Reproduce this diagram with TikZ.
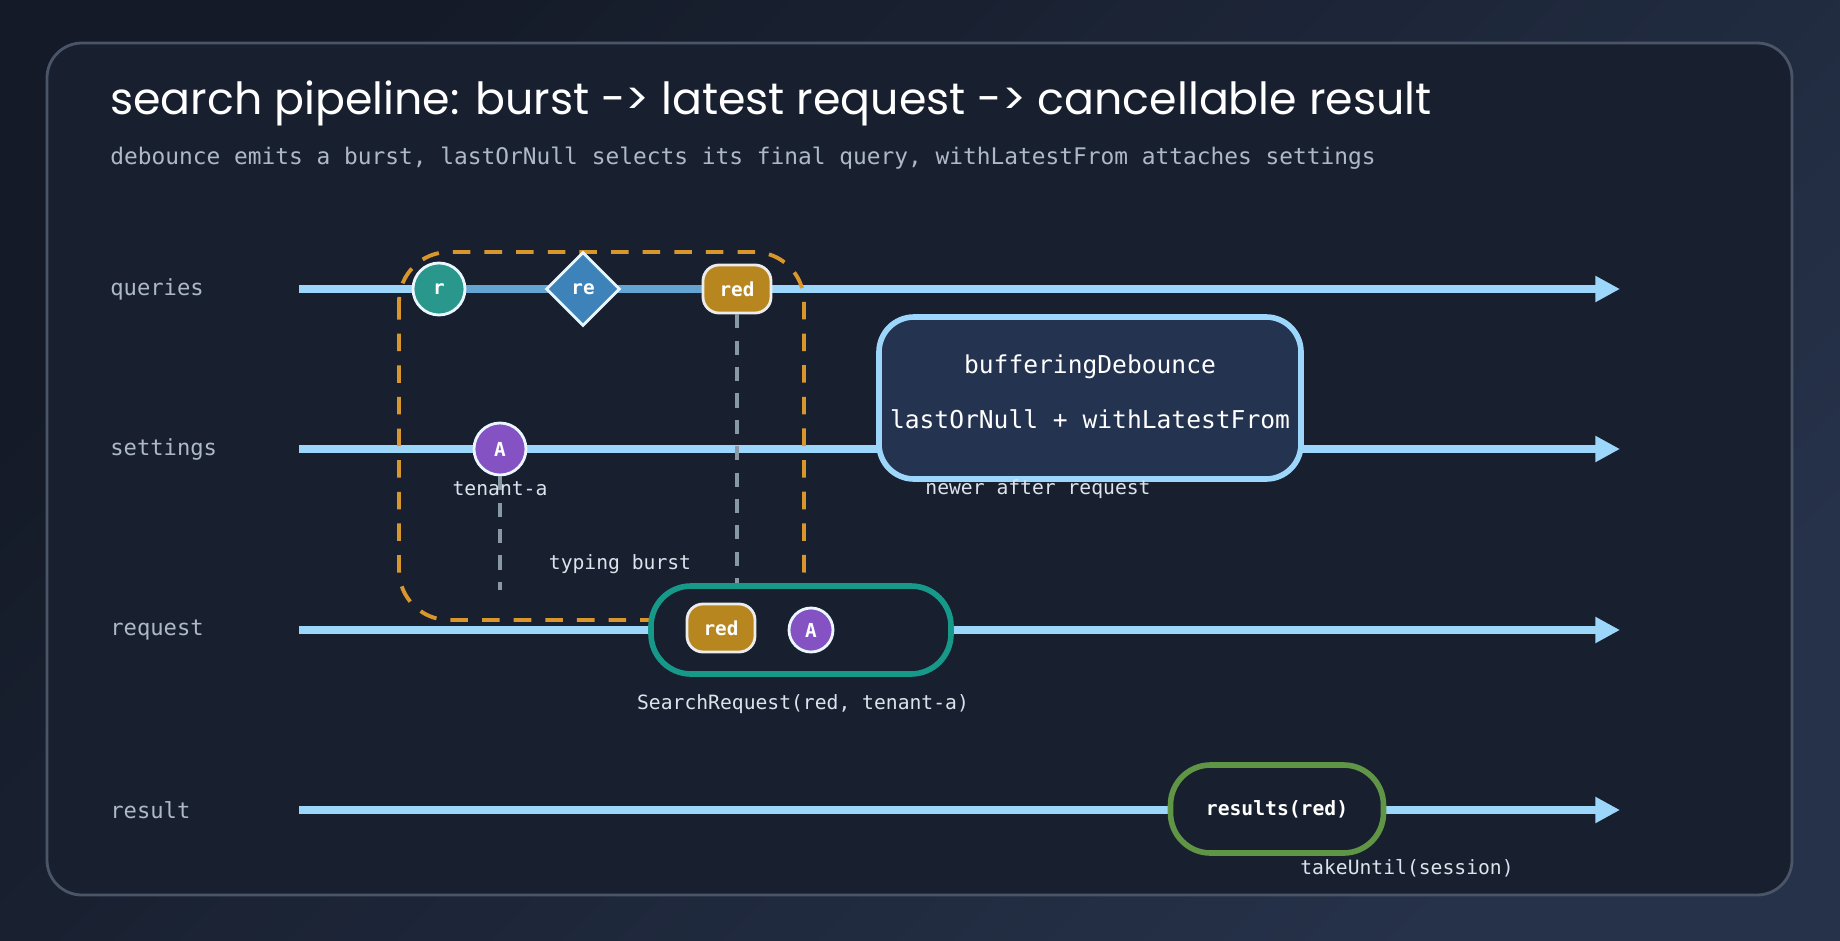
\documentclass[tikz,border=0pt]{standalone}
\usepackage{fontspec}
\setmainfont{DejaVu Sans Mono}
\newfontfamily\titlefont{Poppins}
\usetikzlibrary{shapes.geometric,arrows.meta,positioning}
\definecolor{bgA}{HTML}{141A27}
\definecolor{bgB}{HTML}{26324A}
\definecolor{panel}{HTML}{182030}
\definecolor{panelrim}{HTML}{4A5668}
\definecolor{lane}{HTML}{9DD6FB}
\definecolor{txt}{HTML}{DCE3EC}
\definecolor{subtxt}{HTML}{AEB9C8}
\definecolor{burst}{HTML}{D8962C}
\definecolor{teal}{HTML}{17998A}
\definecolor{green}{HTML}{5F9545}
\definecolor{gold}{HTML}{B8861E}
\definecolor{purple}{HTML}{8552C4}
\definecolor{steel}{HTML}{3D82B9}
\definecolor{tealball}{HTML}{2A978C}
\definecolor{opfill}{HTML}{233350}
\tikzset{
    lanelabel/.style = {anchor=west, text=subtxt, font=\fontsize{6.3}{8}\selectfont},
    laneline/.style = {lane, line width=2.3pt, -{Triangle[length=7pt,width=7pt]}},
    note/.style = {text=txt, font=\fontsize{5.6}{7}\selectfont},
    marble/.style = {circle, draw=white!80!lane, line width=0.8pt, minimum size=5.2mm, inner sep=0pt,
        text=white, font=\fontsize{5.5}{7}\selectfont\bfseries},
    chip/.style = {rectangle, rounded corners=1.6mm, draw=white!85!gray, line width=0.8pt, fill=gold,
        minimum width=6.8mm, minimum height=4.8mm, inner sep=0pt, text=white, font=\fontsize{5.5}{7}\selectfont\bfseries},
    guide/.style = {draw=gray!70!lane, line width=1pt, dash pattern=on 4pt off 3.5pt}
}
\begin{document}
\begin{tikzpicture}[x=0.1mm, y=-0.1mm]
    % Background and panel
    \shade[left color=bgA, right color=bgB, shading angle=45] (0,0) rectangle (1840,940);
    \useasboundingbox (0,0) rectangle (1840,940);
    \fill[panel, rounded corners=3.5mm] (47,43) rectangle (1792,895);
    \draw[panelrim, line width=0.8pt, rounded corners=3.5mm] (47,43) rectangle (1792,895);

    % Titles
    \node[anchor=west, text=white, font=\titlefont\fontsize{12.6}{15}\selectfont] (title) at (98,103)
        {search pipeline: burst -> latest request -> cancellable result};
    \node[anchor=west, text=subtxt, font=\fontsize{6.5}{8}\selectfont] (subtitle) at (98,158)
        {debounce emits a burst, lastOrNull selects its final query, withLatestFrom attaches settings};

    % Lanes
    \foreach \y/\name in {289/queries, 449/settings, 630/request, 810/result}{
        \node[lanelabel] (lbl-\name) at (98,\y) {\name};
        \coordinate (start-\name) at (299,\y);
        \coordinate (end-\name) at (1620,\y);
        \draw[laneline] (start-\name) -- (end-\name);
    }
    \draw[steel!60!lane, line width=2.3pt] (439,289) -- (737,289);

    % Burst window
    \draw[burst, line width=1.1pt, dash pattern=on 5pt off 4pt, rounded corners=5mm]
        (399,252) rectangle (804,620);
    \node[note] (burst-lbl) at (620,564) {typing burst};

    % Query marbles
    \node[marble, fill=tealball] (q-r) at (439,289) {r};
    \node[diamond, draw=white!75!lane, line width=0.8pt, fill=steel, minimum size=7.4mm, inner sep=0pt,
        text=white, font=\fontsize{5.5}{7}\selectfont\bfseries] (q-re) at (583,289) {re};
    \node[chip] (q-red) at (737,289) {red};

    % Settings marble
    \node[marble, fill=purple] (s-a) at (500,449) {A};
    \node[note] (s-a-lbl) at (500,489) {tenant-a};

    % Operator box
    \node[rectangle, rounded corners=3.5mm, draw=lane, line width=1.6pt, fill=opfill,
        minimum width=42.2mm, minimum height=16.2mm] (op) at (1090,398) {};
    \node[text=white, font=\fontsize{7}{9}\selectfont] (op-a) at (1090,367) {bufferingDebounce};
    \node[text=white, font=\fontsize{7}{9}\selectfont] (op-b) at (1090,419) {lastOrNull + withLatestFrom};
    \node[note] (op-note) at (1038,489) {newer after request};

    % Request box
    \node[rectangle, rounded corners=4mm, draw=teal, line width=1.6pt, fill=panel,
        minimum width=30mm, minimum height=8.8mm] (req) at (801,630) {};
    \node[chip] (r-red) at (721,628) {red};
    \node[marble, fill=purple, minimum size=4.4mm] (r-a) at (811,630) {A};
    \node[note] (req-lbl) at (803,704) {SearchRequest(red, tenant-a)};

    % Guides
    \draw[guide] (q-red.south) -- (req.north -| q-red);
    \draw[guide] (s-a.south) -- (500,590);

    % Result box
    \node[rectangle, rounded corners=4mm, draw=green, line width=1.6pt, fill=panel,
        minimum width=21.3mm, minimum height=8.8mm, text=white, font=\fontsize{5.6}{7}\selectfont\bfseries] (res) at (1277,809) {results(red)};
    \node[note] (res-lbl) at (1407,868) {takeUntil(session)};
\end{tikzpicture}
\end{document}
